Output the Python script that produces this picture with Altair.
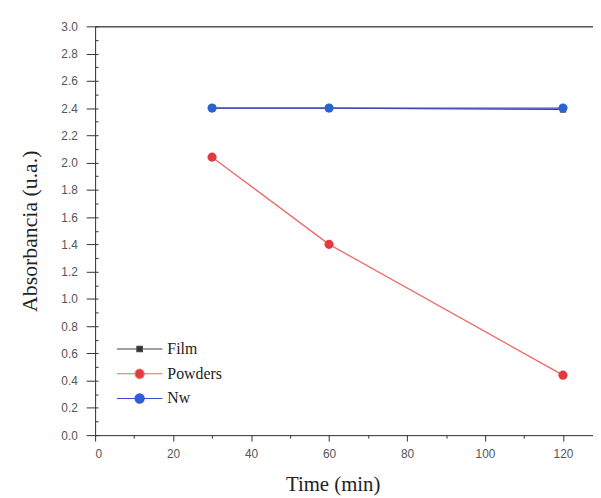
import altair as alt
import pandas as pd

times = [30, 60, 120]
film = [2.40, 2.40, 2.39]
powders = [2.04, 1.40, 0.44]
nw = [2.40, 2.40, 2.40]
series_names = ["Film", "Powders", "Nw"]

x_major = [0, 20, 40, 60, 80, 100, 120]
x_minor = [10, 30, 50, 70, 90, 110]
y_major = [round(0.2 * i, 1) for i in range(16)]
y_minor = [round(0.1 * i, 1) for i in range(31)]

rows = []
for name, vals in zip(series_names, [film, powders, nw]):
    for t, v in zip(times, vals):
        rows.append({"time": t, "abs": v, "series": name})
df = pd.DataFrame(rows)

W, H = 503, 413
XDOM = [0, 127.7]
YDOM = [0, 3.0]
xs = alt.Scale(domain=XDOM, nice=False, zero=False)
ys = alt.Scale(domain=YDOM, nice=False, zero=False)

TICKFONT = "Liberation Sans"
SERIF = "Liberation Serif"

x_axis = alt.Axis(orient="bottom", values=x_major, title="Time (min)", format="d", grid=False,
                  tickSize=6, tickColor="#333", domainColor="#333",
                  labelFont=TICKFONT, labelFontSize=12, labelColor="#555", labelPadding=8,
                  titleFont=SERIF, titleFontSize=21, titleFontWeight="normal", titleColor="#222",
                  titleX=240, titleY=50, titleBaseline="middle", titleAnchor="start",
                  titleAlign="center")
y_axis = alt.Axis(orient="left", values=y_major, title="Absorbancia (u.a.)", format=".1f", grid=False,
                  tickSize=9, tickColor="#333", domainColor="#333",
                  labelFont=TICKFONT, labelFontSize=12, labelColor="#555", labelPadding=9,
                  titleFont=SERIF, titleFontSize=22, titleFontWeight="normal", titleColor="#222",
                  titlePadding=20)

colors_line = {"Film": "#444444", "Powders": "#f06868", "Nw": "#3b4fd0"}
colors_pt = {"Film": "#333333", "Powders": "#e23a40", "Nw": "#2a62d0"}

layers = []
first = True
for name in series_names:
    sub = df[df.series == name]
    if first:
        enc_x = alt.X("time:Q", scale=xs, axis=x_axis)
        enc_y = alt.Y("abs:Q", scale=ys, axis=y_axis)
        first = False
    else:
        enc_x = alt.X("time:Q", scale=xs, axis=None)
        enc_y = alt.Y("abs:Q", scale=ys, axis=None)
    line = alt.Chart(sub).mark_line(color=colors_line[name], strokeWidth=1.3).encode(x=enc_x, y=enc_y)
    ex = alt.X("time:Q", scale=xs, axis=None)
    ey = alt.Y("abs:Q", scale=ys, axis=None)
    if name == "Film":
        pts = alt.Chart(sub).mark_square(color=colors_pt[name], size=40, opacity=1).encode(x=ex, y=ey)
    else:
        pts = alt.Chart(sub).mark_circle(color=colors_pt[name], size=85, opacity=1).encode(x=ex, y=ey)
    layers += [line, pts]

# minor ticks
minx = alt.Chart(pd.DataFrame({"v": x_minor})).mark_point(opacity=0).encode(
    x=alt.X("v:Q", scale=xs, axis=alt.Axis(orient="bottom", values=x_minor, labels=False, title=None,
                                            grid=False, tickSize=3, tickColor="#333", domain=False)),
)
miny = alt.Chart(pd.DataFrame({"v": y_minor})).mark_point(opacity=0).encode(
    y=alt.Y("v:Q", scale=ys, axis=alt.Axis(orient="right", offset=-W, values=y_minor, labels=False,
                                            title=None, grid=False, tickSize=3, tickColor="#333",
                                            domain=False)),
)
# top frame
top = alt.Chart(pd.DataFrame({"v": [0]})).mark_point(opacity=0).encode(
    x=alt.X("v:Q", scale=xs, axis=alt.Axis(orient="top", labels=False, ticks=False, title=None,
                                            grid=False, domainColor="#555", domainWidth=1.5)),
)

# legend
def sym(r, square=False):
    if square:
        return (f"M-1,0H{-r}M{r},0H1M{-r},{-r}H{r}V{r}H{-r}Z")
    return (f"M-1,0H{-r}M{r},0H1M{-r},0A{r},{r},0,1,1,{r},0A{r},{r},0,1,1,{-r},0Z")


def make_legend():
    return alt.Legend(title=None, orient="none", legendX=21, legendY=316,
                      symbolSize=2116, symbolOpacity=1, symbolStrokeWidth=1.2,
                      clipHeight=20, rowPadding=5, padding=0,
                      labelFont=SERIF, labelFontSize=16, labelColor="#222",
                      labelOffset=4)


leg_scale_dom = series_names
leg_df = pd.DataFrame({"series": series_names, "time": [0, 0, 0], "abs": [0, 0, 0]})
legend = alt.Chart(leg_df).mark_point(filled=True, opacity=0, strokeWidth=1).encode(
    x=alt.X("time:Q", scale=xs, axis=None),
    y=alt.Y("abs:Q", scale=ys, axis=None),
    color=alt.Color("series:N", scale=alt.Scale(domain=leg_scale_dom,
                    range=[colors_pt[n] for n in series_names]),
                    legend=make_legend()),
    stroke=alt.Stroke("series:N", scale=alt.Scale(domain=leg_scale_dom,
                      range=[colors_line[n] for n in series_names]),
                      legend=make_legend()),
    shape=alt.Shape("series:N", scale=alt.Scale(domain=leg_scale_dom,
                    range=[sym(0.12, True), sym(0.2), sym(0.2)]), legend=make_legend()),
)

chart = alt.layer(minx, miny, top, *layers, legend).resolve_axis(
    x="independent", y="independent"
).properties(
    width=W, height=H,
    padding={"left": 88, "top": 16, "right": 0, "bottom": 62},
    autosize=alt.AutoSizeParams(type="none"),
).configure_view(stroke=None).configure(background="white")

chart.save("out.html", embed_options={"renderer": "svg", "actions": False})
